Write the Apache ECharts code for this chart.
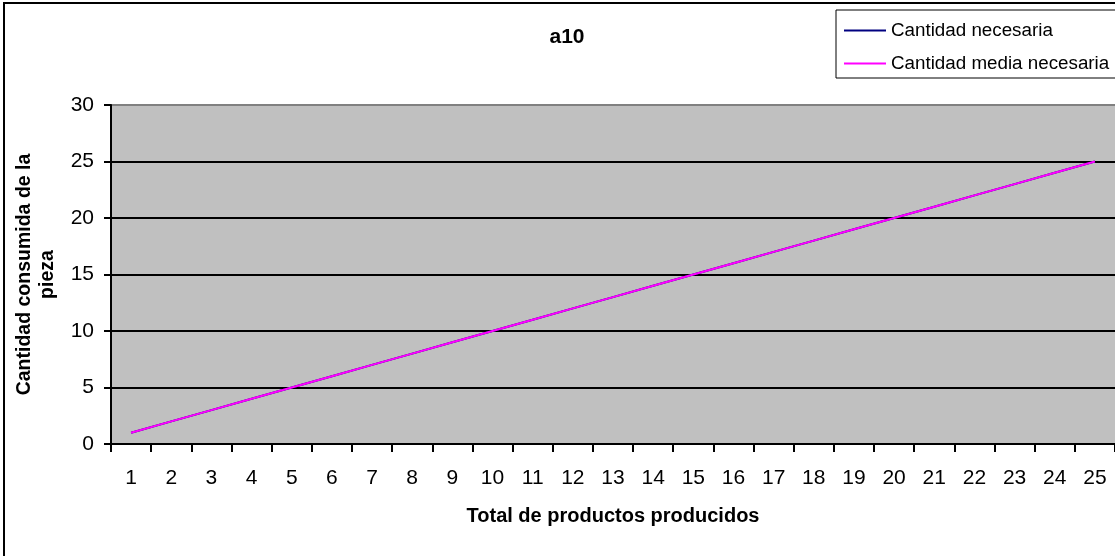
<!DOCTYPE html>
<html>
<head>
<meta charset="utf-8">
<style>
  html, body { margin: 0; padding: 0; background: #fff; }
  #chart { width: 1115px; height: 556px; }
</style>
<script src="https://cdn.jsdelivr.net/npm/echarts@6/dist/echarts.min.js"></script>
</head>
<body>
<div id="chart"></div>
<script>
// Categories: total products produced
const categories = ['1','2','3','4','5','6','7','8','9','10','11','12','13','14','15','16','17','18','19','20','21','22','23','24','25'];
// Quantity of the part consumed
const cantidadNecesaria = [1,2,3,4,5,6,7,8,9,10,11,12,13,14,15,16,17,18,19,20,21,22,23,24,25];
// Average quantity needed
const cantidadMediaNecesaria = [1,2,3,4,5,6,7,8,9,10,11,12,13,14,15,16,17,18,19,20,21,22,23,24,25];
const yTicks = { min: 0, max: 30, interval: 5 };

const FONT = '"Liberation Sans", Arial, sans-serif';
const chart = echarts.init(document.getElementById('chart'));

chart.setOption({
  animation: false,
  backgroundColor: '#ffffff',
  textStyle: { fontFamily: FONT },
  title: {
    text: 'a10',
    left: 562, top: 22,
    textAlign: 'center',
    textStyle: { fontFamily: FONT, fontSize: 21, fontWeight: 'bold', color: '#000' }
  },
  legend: {
    orient: 'vertical',
    left: 836, top: 10,
    padding: [11, 12, 5, 8],
    itemGap: 14,
    itemWidth: 42, itemHeight: 2,
    icon: 'rect',
    borderColor: '#000', borderWidth: 1,
    backgroundColor: '#fff',
    textStyle: { fontFamily: FONT, fontSize: 18.8, color: '#000' },
    data: ['Cantidad necesaria', 'Cantidad media necesaria']
  },
  graphic: [{
    type: 'rect',
    shape: { x: 4, y: 3, width: 1200, height: 600 },
    style: { fill: 'none', stroke: '#000', lineWidth: 2 },
    silent: true, z: 100
  }],
  grid: {
    left: 111, top: 105, right: -3, bottom: 112,
    show: true, backgroundColor: '#c0c0c0', borderWidth: 0
  },
  xAxis: {
    type: 'category',
    data: categories,
    boundaryGap: true,
    name: 'Total de productos producidos',
    nameLocation: 'middle', nameGap: 62,
    nameTextStyle: { fontFamily: FONT, fontSize: 20, fontWeight: 'bold', color: '#000' },
    axisLine: { lineStyle: { color: '#000', width: 2 } },
    axisTick: { show: true, alignWithLabel: false, length: 8, lineStyle: { color: '#000', width: 2 } },
    axisLabel: { fontFamily: FONT, fontSize: 21, color: '#000', margin: 24, interval: 0 },
    splitLine: { show: false }
  },
  yAxis: {
    type: 'value',
    min: yTicks.min, max: yTicks.max, interval: yTicks.interval,
    name: 'Cantidad consumida de la\npieza',
    nameLocation: 'middle', nameGap: 52, nameRotate: 90,
    nameTextStyle: { fontFamily: FONT, fontSize: 19.5, fontWeight: 'bold', color: '#000', lineHeight: 23 },
    axisLine: { show: true, lineStyle: { color: '#000', width: 2 } },
    axisTick: { show: true, length: 7, lineStyle: { color: '#000', width: 2 } },
    axisLabel: { fontFamily: FONT, fontSize: 21, color: '#000', margin: 17 },
    splitLine: {
      show: true,
      lineStyle: { color: ['#000','#000','#000','#000','#000','#000','#808080'], width: 2 }
    }
  },
  series: [
    {
      name: 'Cantidad necesaria',
      type: 'line',
      data: cantidadNecesaria,
      symbol: 'none',
      color: '#000080',
      lineStyle: { color: '#000080', width: 2 },
      z: 2
    },
    {
      name: 'Cantidad media necesaria',
      type: 'line',
      data: cantidadMediaNecesaria,
      symbol: 'none',
      color: '#ff00ff',
      lineStyle: { color: '#ff00ff', width: 2 },
      z: 3
    }
  ]
});
</script>
</body>
</html>
